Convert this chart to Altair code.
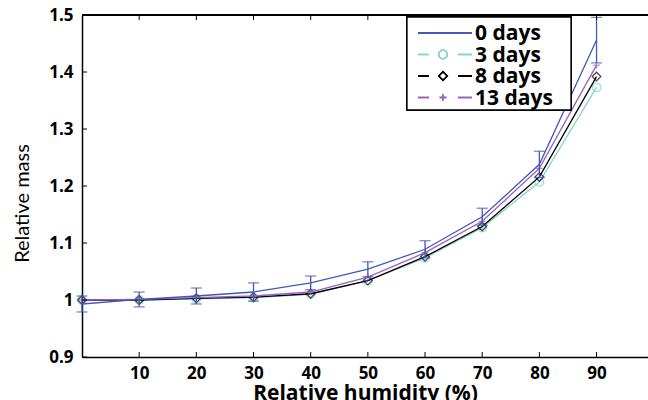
import altair as alt
import pandas as pd

# ---- data ----
rh = [0, 10, 20, 30, 40, 50, 60, 70, 80, 90]
d0 = [0.993, 1.001, 1.007, 1.014, 1.030, 1.054, 1.089, 1.146, 1.238, 1.456]
d0_err = [0.014, 0.013, 0.014, 0.016, 0.012, 0.013, 0.015, 0.015, 0.023, 0.040]
d3 = [1.000, 1.000, 1.002, 1.004, 1.010, 1.034, 1.074, 1.127, 1.207, 1.373]
d8 = [1.000, 1.000, 1.003, 1.005, 1.011, 1.034, 1.076, 1.129, 1.216, 1.392]
d13 = [1.000, 1.001, 1.004, 1.007, 1.014, 1.040, 1.083, 1.138, 1.231, 1.412]
series_names = ["0 days", "3 days", "8 days", "13 days"]
x_ticks = [10, 20, 30, 40, 50, 60, 70, 80, 90]
y_ticks = [0.9, 1.0, 1.1, 1.2, 1.3, 1.4, 1.5]

BLUE = "#4059b8"
CYAN = "#86d3c9"
BLACK = "#000000"
PURPLE = "#9a5fc0"
PLUS = "M -1 0 L 1 0 M 0 -1 L 0 1"

W, H = 566, 342
FONT = "Open Sans"

xs = alt.Scale(domain=[0, 99], nice=False, zero=False)
ys = alt.Scale(domain=[0.9, 1.5], nice=False, zero=False)

df = pd.DataFrame({"rh": rh, "d0": d0, "d3": d3, "d8": d8, "d13": d13,
                   "lo": [m - e for m, e in zip(d0, d0_err)],
                   "hi": [m + e for m, e in zip(d0, d0_err)]})

base = alt.Chart(df)

x_axis = alt.Axis(values=x_ticks, tickSize=0, labelPadding=8, domainWidth=1.5,
                  domainColor="black", labelFont=FONT, labelFontWeight="bold",
                  labelFontSize=17, labelColor="black", grid=False,
                  title="Relative humidity (%)", titleFont=FONT, titleFontWeight="bold",
                  titleFontSize=21, titleColor="black", titlePadding=1)
y_axis = alt.Axis(values=y_ticks, tickSize=0, labelPadding=9, domainWidth=1.5,
                  domainColor="black", labelFont=FONT, labelFontWeight="bold",
                  labelFontSize=17, labelColor="black", grid=False,
                  labelExpr="datum.value == 1 ? '1' : format(datum.value, '.1f')",
                  title="Relative mass", titleFont="Lato",
                  titleFontWeight="normal", titleFontSize=20, titleColor="black",
                  titlePadding=16, titleY=188)


def line(col, color):
    return base.mark_line(color=color, strokeWidth=1.3).encode(
        x=alt.X("rh:Q", scale=xs, axis=x_axis),
        y=alt.Y(f"{col}:Q", scale=ys, axis=y_axis))


def points(col, color, shape, size):
    return base.mark_point(color=color, shape=shape, size=size, filled=False,
                           strokeWidth=1.3).encode(
        x=alt.X("rh:Q", scale=xs), y=alt.Y(f"{col}:Q", scale=ys))


err_rule = base.mark_rule(color=BLUE, strokeWidth=1.3).encode(
    x=alt.X("rh:Q", scale=xs), y=alt.Y("lo:Q", scale=ys), y2="hi:Q")
cap_lo = base.mark_tick(color=BLUE, orient="horizontal", size=11, thickness=1.3).encode(
    x=alt.X("rh:Q", scale=xs), y=alt.Y("lo:Q", scale=ys))
cap_hi = base.mark_tick(color=BLUE, orient="horizontal", size=11, thickness=1.3).encode(
    x=alt.X("rh:Q", scale=xs), y=alt.Y("hi:Q", scale=ys))

# inward ticks
tdf_x = pd.DataFrame({"t": x_ticks})
tdf_y = pd.DataFrame({"t": y_ticks})
xt_bot = alt.Chart(tdf_x).mark_rule(color="black", strokeWidth=1).encode(
    x=alt.X("t:Q", scale=xs), y=alt.value(H), y2=alt.value(H - 5))
xt_top = alt.Chart(tdf_x).mark_rule(color="black", strokeWidth=1).encode(
    x=alt.X("t:Q", scale=xs), y=alt.value(0), y2=alt.value(5))
yt_left = alt.Chart(tdf_y).mark_rule(color="black", strokeWidth=1).encode(
    y=alt.Y("t:Q", scale=ys), x=alt.value(0), x2=alt.value(5))
top_border = alt.Chart(tdf_x).mark_rule(color="black", strokeWidth=1.5).encode(
    x=alt.value(0), x2=alt.value(W), y=alt.value(0))

# legend
leg_df = pd.DataFrame({"name": series_names})
lb = alt.Chart(leg_df)
LX0, LX1, LY0, LY1 = 325, 489, 2, 95
legend_layers = [
    lb.mark_rect(fill="white", stroke="black", strokeWidth=1.3).encode(
        x=alt.value(LX0), x2=alt.value(LX1), y=alt.value(LY0), y2=alt.value(LY1)),
]
entry_y = [18, 39.5, 61, 82.5]
styles = [(BLUE, None, 0), (CYAN, "circle", 75), (BLACK, "diamond", 75), (PURPLE, PLUS, 45)]
for i, (name, (col, shp, sz)) in enumerate(zip(series_names, styles)):
    yy = entry_y[i]
    if shp is None:
        legend_layers.append(lb.mark_rule(color=col, strokeWidth=1.3).encode(
            x=alt.value(336), x2=alt.value(390), y=alt.value(yy)))
    else:
        legend_layers.append(lb.mark_rule(color=col, strokeWidth=1.3).encode(
            x=alt.value(336), x2=alt.value(347), y=alt.value(yy)))
        legend_layers.append(lb.mark_rule(color=col, strokeWidth=1.3).encode(
            x=alt.value(376), x2=alt.value(390), y=alt.value(yy)))
        legend_layers.append(lb.mark_point(color=col, shape=shp, size=sz, filled=False,
                                           strokeWidth=1.3).encode(
            x=alt.value(361), y=alt.value(yy)))
    legend_layers.append(lb.transform_filter(alt.datum.name == name).mark_text(
        font=FONT, fontWeight="bold", fontSize=21, align="left", baseline="middle",
        color="black").encode(x=alt.value(393), y=alt.value(yy + 1), text="name:N"))

chart = alt.layer(
    line("d3", CYAN), points("d3", CYAN, "circle", 75),
    line("d8", BLACK), points("d8", BLACK, "diamond", 75),
    line("d13", PURPLE), points("d13", PURPLE, PLUS, 45),
    line("d0", BLUE), err_rule, cap_lo, cap_hi,
    xt_bot, xt_top, yt_left, top_border,
    *legend_layers,
).properties(
    width=W, height=H,
    autosize=alt.AutoSizeParams(type="none"),
    padding={"left": 82, "top": 15, "right": 0, "bottom": 43},
).configure_view(stroke=None).configure(background="white")

chart.save("out.html", embed_options={"renderer": "svg", "actions": False})
